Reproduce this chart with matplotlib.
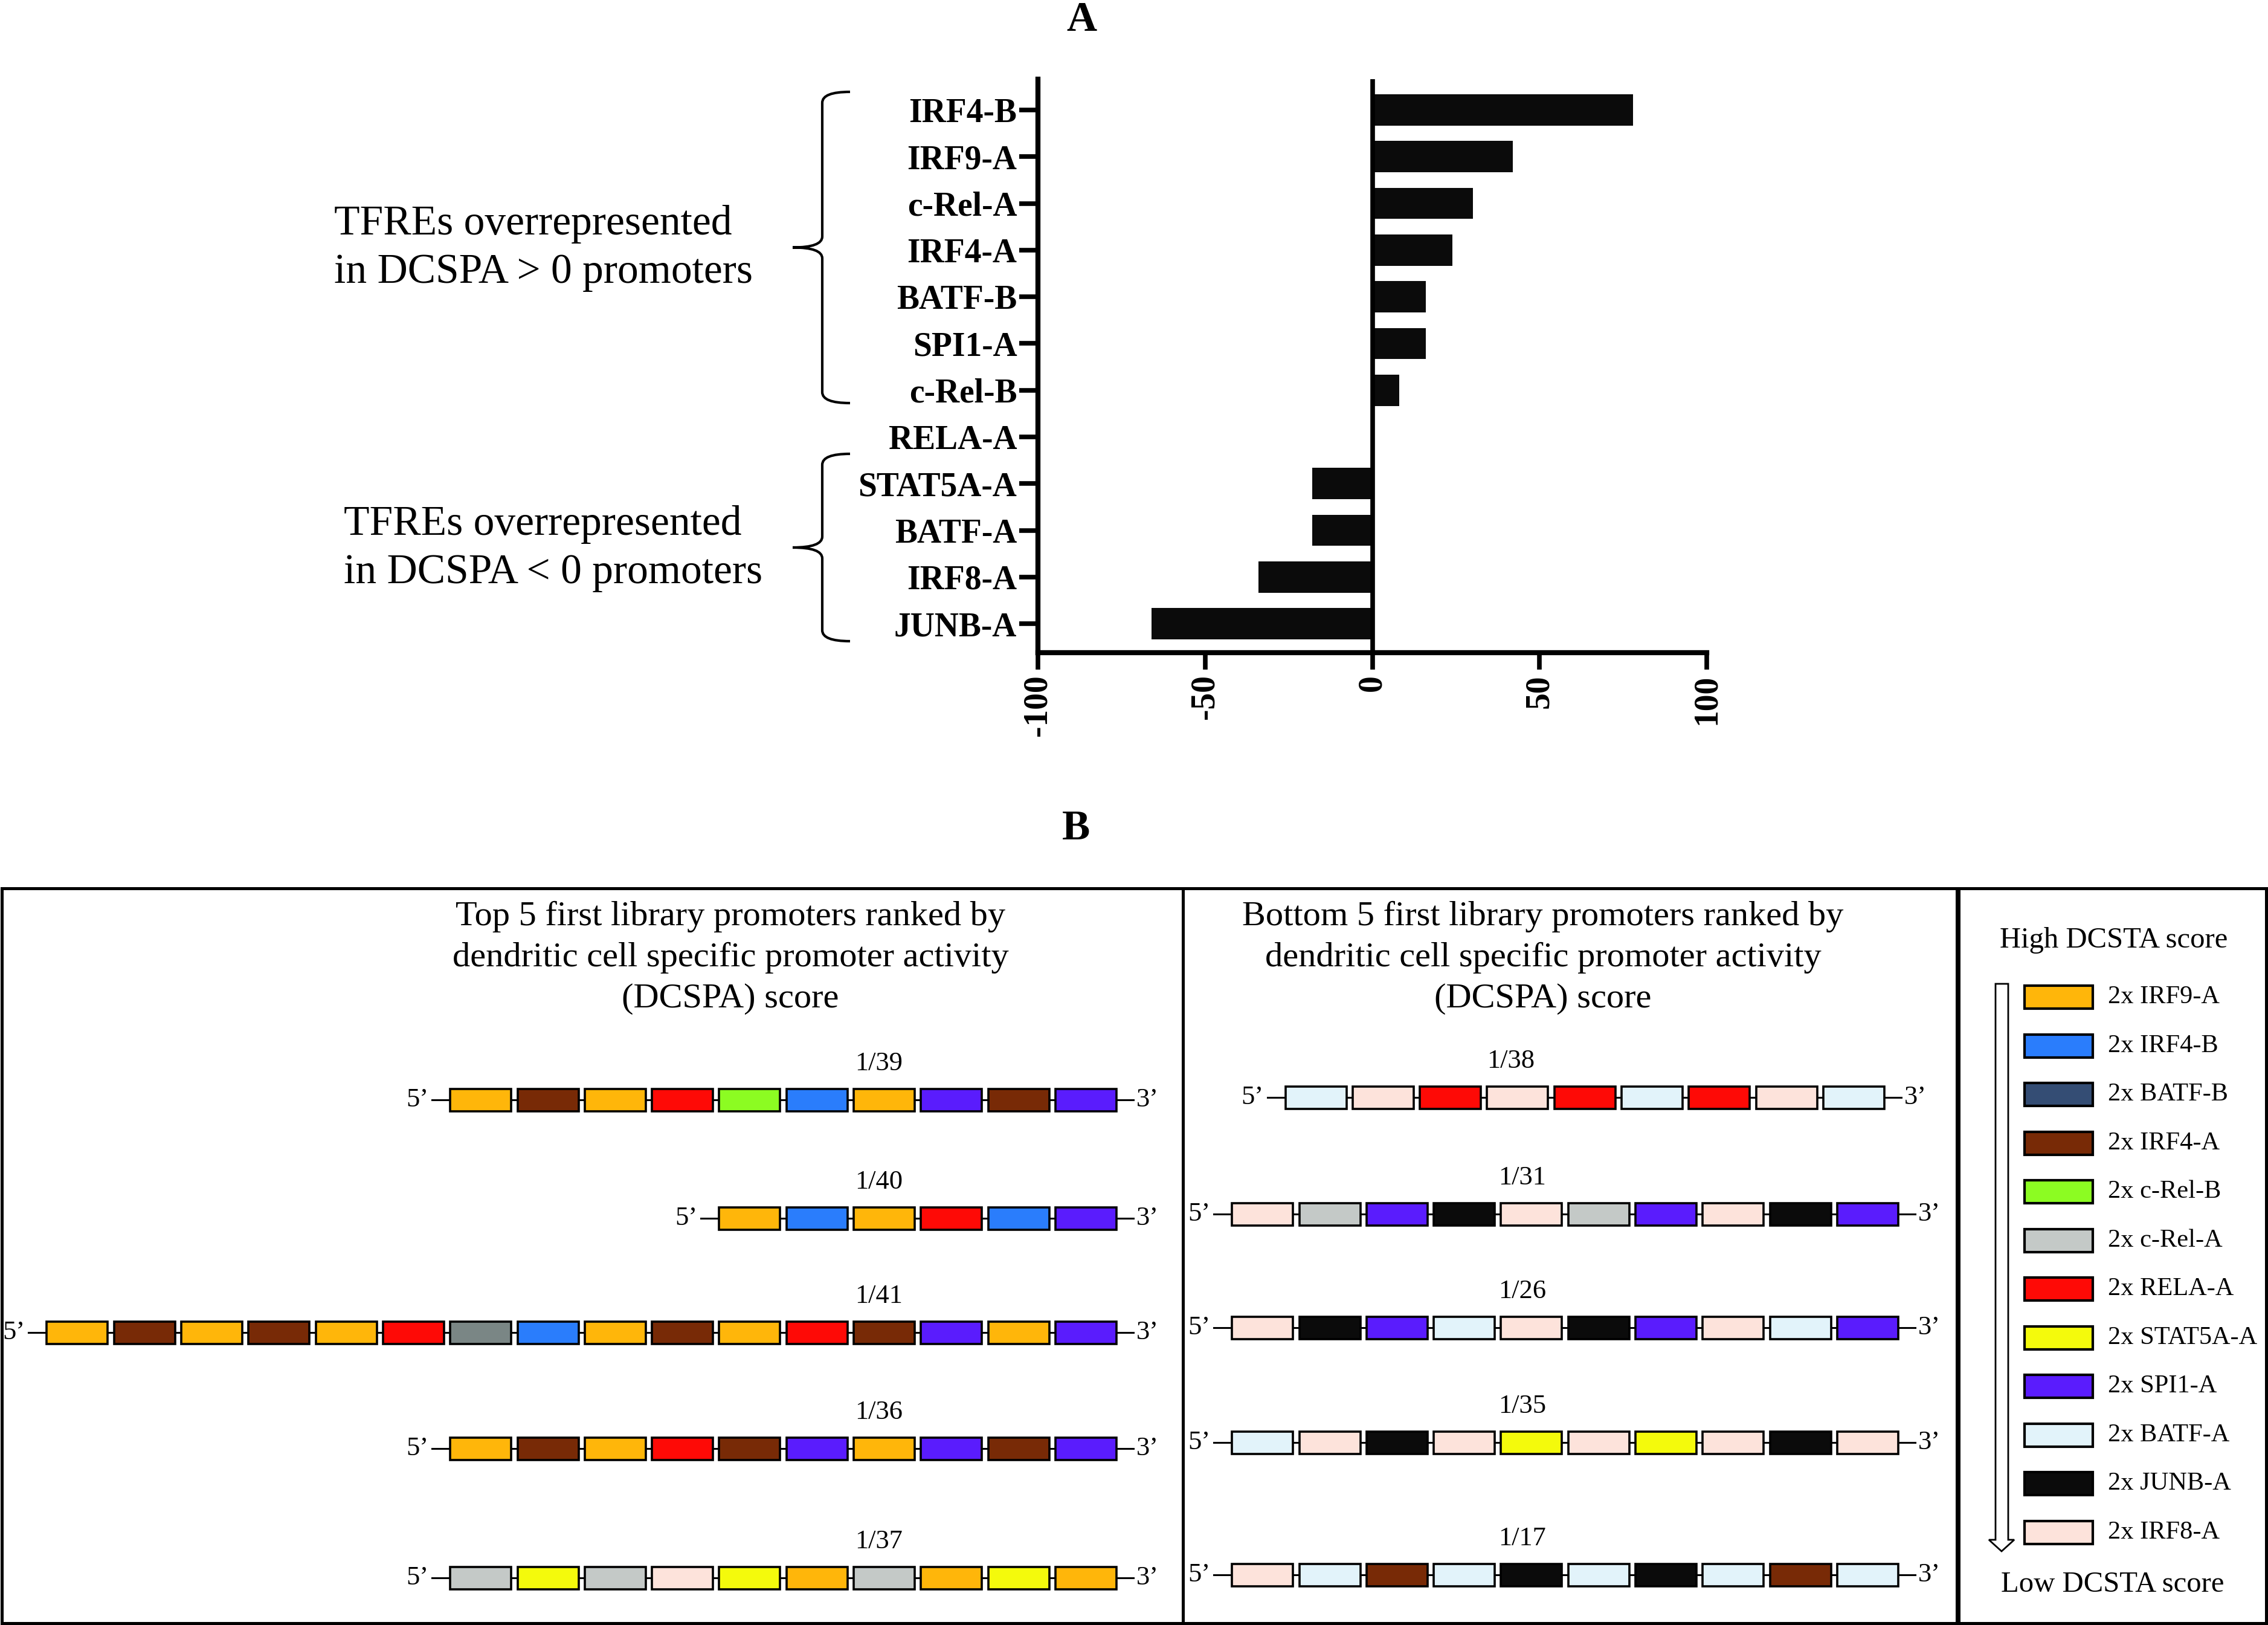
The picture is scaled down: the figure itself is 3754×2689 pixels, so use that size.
import numpy as np
import matplotlib.pyplot as plt
from matplotlib.patches import Rectangle, Polygon, PathPatch
from matplotlib.path import Path

plt.rcParams['font.family'] = ['Liberation Serif', 'DejaVu Serif']
plt.rcParams['axes.unicode_minus'] = False

# ------------------------------------------------------------
# Data
# ------------------------------------------------------------
# Panel A: TFRE enrichment scores
tfre_names = ['IRF4-B', 'IRF9-A', 'c-Rel-A', 'IRF4-A', 'BATF-B', 'SPI1-A',
              'c-Rel-B', 'RELA-A', 'STAT5A-A', 'BATF-A', 'IRF8-A', 'JUNB-A']
tfre_scores = [78, 42, 30, 24, 16, 16, 8, 0, -18, -18, -34, -66]

# Panel B legend (high -> low DCSTA score)
legend_names = ['IRF9-A', 'IRF4-B', 'BATF-B', 'IRF4-A', 'c-Rel-B', 'c-Rel-A',
                'RELA-A', 'STAT5A-A', 'SPI1-A', 'BATF-A', 'JUNB-A', 'IRF8-A']
legend_colors = ['#ffb60a', '#2a7dfc', '#344d74', '#782a06', '#8cfc22', '#c4c9c7',
                 '#fe0a06', '#f4fa0c', '#5a1cfd', '#e2f3fa', '#0b0b0b', '#fde3db']

# Panel B promoters
top_ids = ['1/39', '1/40', '1/41', '1/36', '1/37']
top_rows = [
    ['IRF9-A', 'IRF4-A', 'IRF9-A', 'RELA-A', 'c-Rel-B', 'IRF4-B', 'IRF9-A', 'SPI1-A', 'IRF4-A', 'SPI1-A'],
    ['IRF9-A', 'IRF4-B', 'IRF9-A', 'RELA-A', 'IRF4-B', 'SPI1-A'],
    ['IRF9-A', 'IRF4-A', 'IRF9-A', 'IRF4-A', 'IRF9-A', 'RELA-A', 'unlisted', 'IRF4-B',
     'IRF9-A', 'IRF4-A', 'IRF9-A', 'RELA-A', 'IRF4-A', 'SPI1-A', 'IRF9-A', 'SPI1-A'],
    ['IRF9-A', 'IRF4-A', 'IRF9-A', 'RELA-A', 'IRF4-A', 'SPI1-A', 'IRF9-A', 'SPI1-A', 'IRF4-A', 'SPI1-A'],
    ['c-Rel-A', 'STAT5A-A', 'c-Rel-A', 'IRF8-A', 'STAT5A-A', 'IRF9-A', 'c-Rel-A', 'IRF9-A', 'STAT5A-A', 'IRF9-A'],
]
bottom_ids = ['1/38', '1/31', '1/26', '1/35', '1/17']
bottom_rows = [
    ['BATF-A', 'IRF8-A', 'RELA-A', 'IRF8-A', 'RELA-A', 'BATF-A', 'RELA-A', 'IRF8-A', 'BATF-A'],
    ['IRF8-A', 'c-Rel-A', 'SPI1-A', 'JUNB-A', 'IRF8-A', 'c-Rel-A', 'SPI1-A', 'IRF8-A', 'JUNB-A', 'SPI1-A'],
    ['IRF8-A', 'JUNB-A', 'SPI1-A', 'BATF-A', 'IRF8-A', 'JUNB-A', 'SPI1-A', 'IRF8-A', 'BATF-A', 'SPI1-A'],
    ['BATF-A', 'IRF8-A', 'JUNB-A', 'IRF8-A', 'STAT5A-A', 'IRF8-A', 'STAT5A-A', 'IRF8-A', 'JUNB-A', 'IRF8-A'],
    ['IRF8-A', 'BATF-A', 'IRF4-A', 'BATF-A', 'JUNB-A', 'BATF-A', 'JUNB-A', 'BATF-A', 'IRF4-A', 'BATF-A'],
]

color_of = dict(zip(legend_names, legend_colors))
color_of['unlisted'] = '#7a8685'

# ------------------------------------------------------------
# Figure: a background axes in pixel units + the bar chart axes
# ------------------------------------------------------------
W, H = 3754, 2689
fig = plt.figure(figsize=(W / 100, H / 100), dpi=100)
bg = fig.add_axes([0, 0, 1, 1])
bg.set_xlim(0, W)
bg.set_ylim(H, 0)
bg.axis('off')

# ---------------- Panel A ----------------
axA = fig.add_axes([1718 / W, 1 - 1080 / H, (2825 - 1718) / W, (1080 - 131) / H])
axA.set_facecolor('none')
pos = np.arange(len(tfre_names))
axA.barh(pos, tfre_scores, height=0.67, color='#0b0b0b')
axA.axvline(0, color='black', lw=5.5)
axA.set_xlim(-100, 100)
axA.set_ylim(len(pos) - 1 + 0.62, -0.66)
axA.set_yticks(pos, tfre_names)
axA.set_xticks([-100, -50, 0, 50, 100])
axA.tick_params(axis='y', length=22, width=5.5, pad=3, labelsize=40)
axA.tick_params(axis='x', length=20, width=5.5, pad=6, labelsize=40, labelrotation=90)
for lab in axA.get_yticklabels() + axA.get_xticklabels():
    lab.set_fontweight('bold')
for side in ['top', 'right']:
    axA.spines[side].set_visible(False)
for side in ['left', 'bottom']:
    axA.spines[side].set_linewidth(6)

bg.text(1790, 34, 'A', ha='center', va='center', fontsize=50, fontweight='bold')


def brace(ax, x, top, bot, hook=46, tip=49, r=18):
    mid = (top + bot) / 2
    verts = [(x + hook, top), (x, top), (x, top + r),
             (x, mid - r), (x, mid), (x - tip, mid),
             (x, mid), (x, mid + r),
             (x, bot - r), (x, bot), (x + hook, bot)]
    codes = [Path.MOVETO, Path.CURVE3, Path.CURVE3,
             Path.LINETO, Path.CURVE3, Path.CURVE3,
             Path.CURVE3, Path.CURVE3,
             Path.LINETO, Path.CURVE3, Path.CURVE3]
    ax.add_patch(PathPatch(Path(verts, codes), facecolor='none', edgecolor='black', lw=3))


brace(bg, 1361, 152, 667)
brace(bg, 1361, 751, 1061)
bg.text(553, 411, 'TFREs overrepresented\nin DCSPA > 0 promoters',
        ha='left', va='center', fontsize=50, linespacing=1.35)
bg.text(569, 908, 'TFREs overrepresented\nin DCSPA < 0 promoters',
        ha='left', va='center', fontsize=50, linespacing=1.35)

# ---------------- Panel B ----------------
bg.text(1781, 1372, 'B', ha='center', va='center', fontsize=50, fontweight='bold')

for x0, x1 in [(3, 1958), (1958, 3239), (3242, 3751)]:
    bg.add_patch(Rectangle((x0, 1470), x1 - x0, 2686 - 1470, facecolor='none',
                           edgecolor='black', lw=3.6))

title_tail = ' first library promoters ranked by\ndendritic cell specific promoter activity\n(DCSPA) score'
bg.text(1209, 1585, 'Top 5' + title_tail, ha='center', va='center', fontsize=42, linespacing=1.4)
bg.text(2554, 1585, 'Bottom 5' + title_tail, ha='center', va='center', fontsize=42, linespacing=1.4)

block_w, block_h, pitch = 101, 37, 111.3


def draw_row(ax, names, y, x_end, tag, tag_x):
    n = len(names)
    x0 = x_end - (n - 1) * pitch - block_w
    ax.plot([x0 - 30, x_end + 28], [y, y], color='black', lw=2.2, zorder=1)
    for i, nm in enumerate(names):
        ax.add_patch(Rectangle((x0 + i * pitch, y - block_h / 2), block_w, block_h,
                               facecolor=color_of[nm], edgecolor='black', lw=2.6, zorder=2))
    ax.text(x0 - 36, y, '5’', ha='right', va='center', fontsize=32)
    ax.text(x_end + 33, y, '3’', ha='left', va='center', fontsize=32)
    ax.text(tag_x, y - 60, tag, ha='center', va='center', fontsize=32)


top_y = [1820, 2016, 2205, 2397, 2611]
bottom_y = [1816, 2009, 2197, 2387, 2606]
bottom_end = [3119, 3142, 3142, 3142, 3142]
bottom_tag_x = [2501, 2520, 2520, 2520, 2520]

for names, y, tag in zip(top_rows, top_y, top_ids):
    draw_row(bg, names, y, 1848, tag, 1455)
for names, y, xe, tag, tx in zip(bottom_rows, bottom_y, bottom_end, bottom_ids, bottom_tag_x):
    draw_row(bg, names, y, xe, tag, tx)

# legend
bg.text(3499, 1556, 'High DCSTA score', ha='center', va='center', fontsize=35)
bg.text(3497, 2622, 'Low DCSTA score', ha='center', va='center', fontsize=35)
for i, (nm, col) in enumerate(zip(legend_names, legend_colors)):
    y = 1650 + i * 80.5
    bg.add_patch(Rectangle((3351, y - 19), 113, 38, facecolor=col, edgecolor='black', lw=3))
    bg.text(3489, y, '2x ' + nm, ha='left', va='center', fontsize=30.5)

arrow = Polygon([(3303, 1628), (3324, 1628), (3324, 2548), (3334, 2548),
                 (3313, 2567), (3292, 2548), (3303, 2548)],
                closed=True, facecolor='white', edgecolor='black', lw=2)
bg.add_patch(arrow)

fig.savefig('out.png', dpi=100)
